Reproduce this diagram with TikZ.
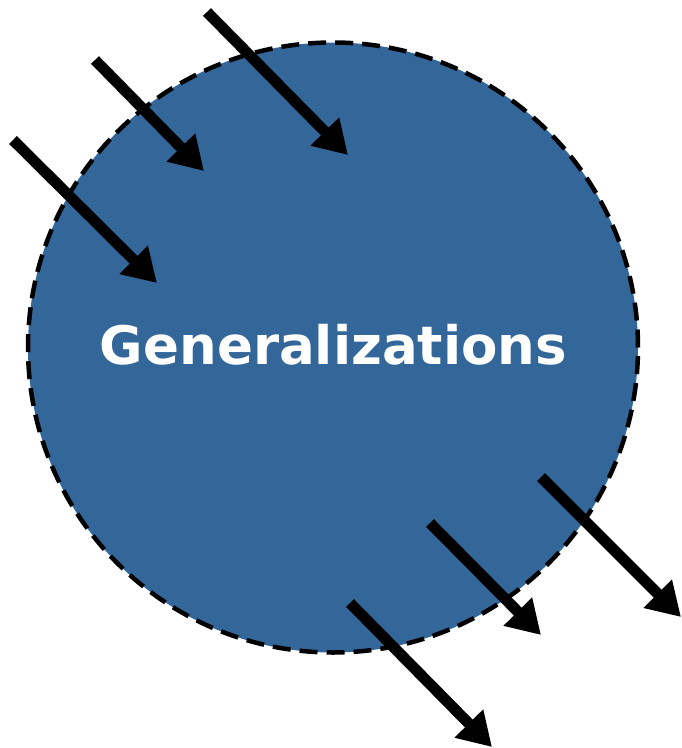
\documentclass[tikz,border=0pt]{standalone}
\usepackage{fontspec}
\setsansfont{DejaVu Sans}
\usetikzlibrary{arrows.meta}
\definecolor{genblue}{HTML}{336699}

\begin{document}
\begin{tikzpicture}[
    x=1pt, y=-1pt,
    region/.style={circle, draw=black, fill=genblue, line width=4.5pt, dash pattern=on 18pt off 9pt, minimum size=610pt, inner sep=0pt},
    label/.style={text=white, font=\sffamily\bfseries\fontsize{53}{60}\selectfont},
    flow/.style={line width=11pt, -{Triangle[length=33pt,width=38pt]}},
]
\useasboundingbox (0,0) rectangle (681,748);

% Region
\node [region] (gen) at (333,347.5) {};
\node [label, anchor=base] (genlabel) at (333.5,364) {Generalizations};

% Incoming ends
\coordinate (in1s) at (207,12);
\coordinate (in1e) at (348,155);
\coordinate (in2s) at (95,60);
\coordinate (in2e) at (204,171);
\coordinate (in3s) at (13,140);
\coordinate (in3e) at (157,283);

% Outgoing ends
\coordinate (out1s) at (541,477);
\coordinate (out1e) at (681,617);
\coordinate (out2s) at (430,523);
\coordinate (out2e) at (541,635);
\coordinate (out3s) at (350,603);
\coordinate (out3e) at (492,747);

% Arrows
\draw [flow] (in1s) -- (in1e);
\draw [flow] (in2s) -- (in2e);
\draw [flow] (in3s) -- (in3e);
\draw [flow] (out1s) -- (out1e);
\draw [flow] (out2s) -- (out2e);
\draw [flow] (out3s) -- (out3e);

\end{tikzpicture}
\end{document}
